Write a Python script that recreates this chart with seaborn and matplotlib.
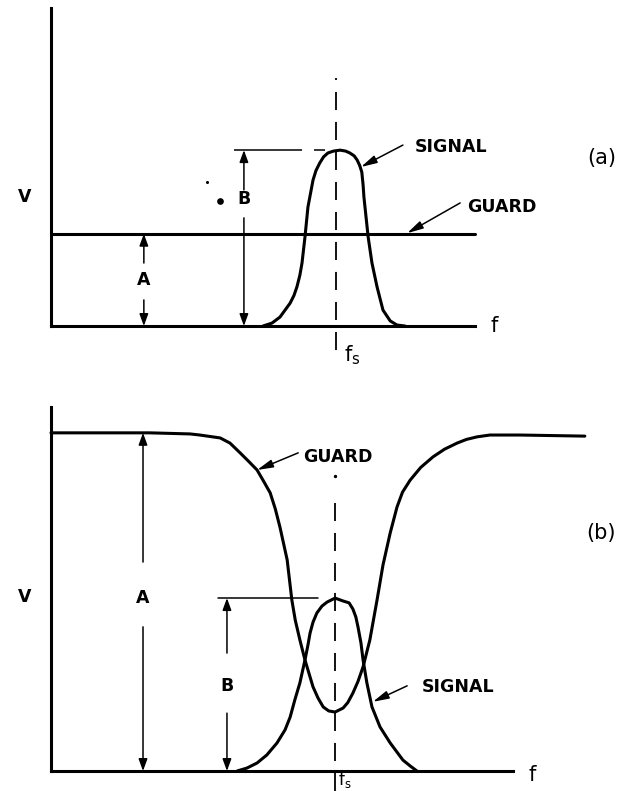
import matplotlib
matplotlib.use("Agg")
import matplotlib.pyplot as plt
import seaborn as sns

sns.set_style("white")
plt.rcParams["font.family"] = ["DejaVu Sans"]
plt.rcParams["text.color"] = "black"
plt.rcParams["lines.scale_dashes"] = False
plt.rcParams["mathtext.default"] = "regular"

# ---------------- data (frequency units, voltage units) ----------------
# (a) flat guard response, narrow signal response centred on f_s
F_S_A = 67.2
GUARD_A_F = [0.0, 100.0]
GUARD_A_V = [29.0, 29.0]
SIGNAL_A_F = [50.0, 52.1, 54.0, 56.4, 57.3, 58.0, 58.7, 59.2, 59.9, 60.6,
              61.8, 62.5, 63.4, 64.3, 65.3, 66.6, 68.2, 69.5, 70.5, 71.5,
              72.2, 72.8, 73.3, 73.6, 73.8, 74.3, 74.8, 75.7, 76.9, 78.3,
              80.0, 81.6, 83.5]
SIGNAL_A_V = [0.0, 0.9, 2.8, 7.2, 9.6, 12.3, 16.0, 19.8, 28.0, 37.4,
              45.9, 48.9, 51.3, 53.2, 54.4, 55.0, 55.3, 55.0, 54.4, 53.5,
              52.2, 50.5, 48.4, 44.5, 40.6, 34.3, 28.0, 19.8, 12.3, 5.0,
              1.6, 0.3, 0.0]

# (b) guard response with a notch at f_s, signal response peaking at f_s
F_S_B = 67.0
GUARD_B_F = [0.0, 23.3, 32.8, 35.1, 39.9, 42.2, 44.6, 46.5, 48.6, 50.0,
             51.7, 52.9, 54.0, 55.7, 56.8, 57.6, 58.7, 59.9, 61.8, 63.0,
             64.2, 65.5, 67.0, 68.9, 70.0, 71.2, 72.4, 73.6, 75.2, 76.9,
             78.3, 80.0, 81.6, 82.9, 84.7, 87.2, 90.1, 92.8, 95.8, 98.0,
             100.5, 103.5, 110.6, 125.9]
GUARD_B_V = [92.9, 92.9, 92.6, 92.3, 91.5, 90.1, 87.4, 85.2, 82.7, 79.9,
             76.4, 72.0, 67.0, 58.0, 47.0, 41.5, 36.0, 30.5, 23.1, 20.0,
             17.6, 16.5, 16.2, 17.3, 18.8, 21.4, 24.6, 28.6, 36.0, 47.0,
             56.6, 65.4, 72.5, 76.6, 79.9, 83.4, 86.3, 88.4, 90.1, 91.1,
             91.8, 92.3, 92.3, 92.0]
SIGNAL_B_F = [43.9, 46.2, 48.6, 50.9, 53.3, 55.2, 56.4, 57.5, 58.7, 59.9,
              60.6, 61.1, 61.8, 62.7, 63.9, 65.1, 67.0, 68.9, 70.3, 71.2,
              71.9, 72.4, 73.1, 73.6, 74.5, 75.7, 77.6, 80.0, 83.0, 84.7,
              86.3]
SIGNAL_B_V = [0.0, 0.8, 2.2, 4.4, 7.7, 11.3, 14.8, 19.5, 24.2, 30.5,
              34.6, 37.9, 40.9, 43.4, 45.3, 46.4, 47.5, 46.7, 46.2, 44.5,
              42.3, 39.6, 35.2, 30.5, 24.2, 17.6, 12.1, 7.7, 3.0, 1.4,
              0.0]

# ---------------- figure layout ----------------
W, H = 631, 791
PX_PER_F = 4.24
fig = plt.figure(figsize=(W / 100, H / 100), dpi=100)
fig.patch.set_facecolor("white")

ax_a = fig.add_axes([51 / W, (H - 326) / H, 130 * PX_PER_F / W, 318 / H])
ax_b = fig.add_axes([51 / W, (H - 771) / H, 130 * PX_PER_F / W, 364 / H])

CURVE_LW = 2.2
THIN_LW = 1.1
LABEL_FS = 12.5

for ax, xend in ((ax_a, 100), (ax_b, 109)):
    ax.set_xlim(0, 130)
    ax.set_ylim(0, 100)
    ax.set_facecolor("none")
    ax.set_xticks([])
    ax.set_yticks([])
    for side in ("top", "right"):
        ax.spines[side].set_visible(False)
    for side in ("left", "bottom"):
        ax.spines[side].set_color("black")
        ax.spines[side].set_linewidth(CURVE_LW)
    ax.spines["bottom"].set_bounds(0, xend)


def curve(ax, f, v):
    sns.lineplot(x=f, y=v, ax=ax, color="black", lw=CURVE_LW, sort=False,
                 estimator=None, clip_on=False, legend=False,
                 solid_joinstyle="round")


def centre_line(ax, x, y0, y1):
    ax.plot([x, x], [y0, y1], color="black", lw=1.3,
            linestyle=(0, (13, 8.6)), clip_on=False)


ARROW = dict(arrowstyle="-|>,head_length=0.6,head_width=0.22", color="black",
             lw=THIN_LW, shrinkA=0, shrinkB=0, mutation_scale=12)
POINTER = dict(arrowstyle="-|>,head_length=0.8,head_width=0.2", color="black",
               lw=THIN_LW, shrinkA=0, shrinkB=0, mutation_scale=12)


def dimension(ax, x, top, label, label_y, gap_lo, gap_hi):
    ax.annotate("", xy=(x, top), xytext=(x, gap_hi), arrowprops=ARROW,
                annotation_clip=False)
    ax.annotate("", xy=(x, 0), xytext=(x, gap_lo), arrowprops=ARROW,
                annotation_clip=False)
    ax.text(x, label_y, label, ha="center", va="center",
            fontsize=LABEL_FS, fontweight="bold")


def pointer(ax, text, text_xy, tail, tip):
    ax.text(*text_xy, text, ha="center", va="center",
            fontsize=LABEL_FS, fontweight="bold")
    ax.annotate("", xy=tip, xytext=tail, arrowprops=POINTER,
                annotation_clip=False)


# ---------------- panel (a) ----------------
guard_a = GUARD_A_V[0]
peak_a = max(SIGNAL_A_V)
centre_line(ax_a, F_S_A, -7.5, 78)
curve(ax_a, GUARD_A_F, GUARD_A_V)
curve(ax_a, SIGNAL_A_F, SIGNAL_A_V)

# extension of the signal peak level for the B dimension
ax_a.plot([43.2, 64.6], [peak_a, peak_a], color="black", lw=THIN_LW,
          linestyle=(0, (49, 8.6, 8, 100)), clip_on=False)
dimension(ax_a, 21.9, guard_a, "A", 14.5, 8.2, 19.8)
dimension(ax_a, 45.5, peak_a, "B", 40.0, 34.0, 42.8)
ax_a.plot([39.9], [39.3], "o", color="black", ms=3.8, clip_on=False)
ax_a.plot([36.8], [45.3], "o", color="black", ms=1.2, clip_on=False)

pointer(ax_a, "SIGNAL", (94.4, 56.3), (83.0, 56.9), (73.1, 50.0))
pointer(ax_a, "GUARD", (106.4, 37.4), (96.5, 38.7), (84.0, 29.2))

ax_a.text(-6.1, 40.6, "V", ha="center", va="center", fontsize=LABEL_FS,
          fontweight="bold")
ax_a.text(104.5, 0.0, "f", ha="center", va="center", fontsize=15)
ax_a.text(69.1, -9.1, r"$\mathregular{f_s}$", ha="left", va="center",
          fontsize=15)
ax_a.text(130.0, 52.8, "(a)", ha="center", va="center", fontsize=15)

# ---------------- panel (b) ----------------
guard_b = max(GUARD_B_V)
peak_b = max(SIGNAL_B_V)
centre_line(ax_b, F_S_B, -5.5, 73.6)
ax_b.plot([F_S_B], [81.0], "o", color="black", ms=1.4, clip_on=False)
curve(ax_b, GUARD_B_F, GUARD_B_V)
curve(ax_b, SIGNAL_B_F, SIGNAL_B_V)

ax_b.plot([39.4, 63.0], [peak_b, peak_b], color="black", lw=THIN_LW,
          clip_on=False)
dimension(ax_b, 21.7, guard_b, "A", 47.5, 39.6, 57.4)
dimension(ax_b, 41.5, peak_b, "B", 23.4, 15.9, 32.4)

pointer(ax_b, "GUARD", (67.7, 86.3), (58.3, 87.4), (48.6, 82.7))
pointer(ax_b, "SIGNAL", (96.0, 23.1), (84.0, 23.4), (75.9, 19.0))

ax_b.text(-6.1, 47.8, "V", ha="center", va="center", fontsize=LABEL_FS,
          fontweight="bold")
ax_b.text(113.4, -1.1, "f", ha="center", va="center", fontsize=15)
ax_b.text(67.6, -5.2, r"$\mathregular{f_s}$", ha="left", va="bottom",
          fontsize=12)
ax_b.text(129.7, 65.4, "(b)", ha="center", va="center", fontsize=15)

fig.savefig("out.png", dpi=100, facecolor="white")
